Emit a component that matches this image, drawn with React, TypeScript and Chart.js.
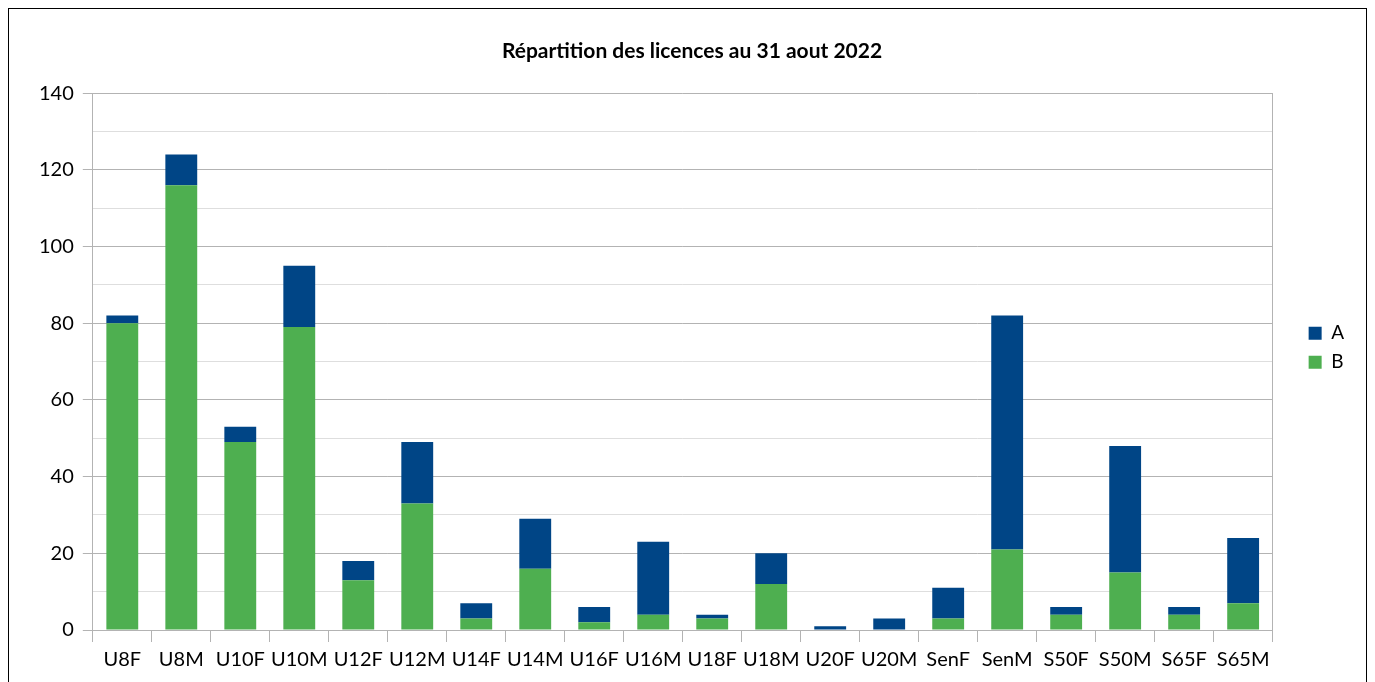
import React, { useEffect, useRef } from "react";
import { Chart, registerables } from "chart.js";

Chart.register(...registerables);

const categories = ["U8F", "U8M", "U10F", "U10M", "U12F", "U12M", "U14F", "U14M", "U16F", "U16M", "U18F", "U18M", "U20F", "U20M", "SenF", "SenM", "S50F", "S50M", "S65F", "S65M"];
const seriesB = [80, 116, 49, 79, 13, 33, 3, 16, 2, 4, 3, 12, 0, 0, 3, 21, 4, 15, 4, 7];
const seriesA = [2, 8, 4, 16, 5, 16, 4, 13, 4, 19, 1, 8, 1, 3, 8, 61, 2, 33, 2, 17];
const title = "Répartition des licences au 31 aout 2022";
const yMax = 140;

const FONT = "Lato, 'Liberation Sans', sans-serif";
const MAJOR = "#b3b3b3";
const MINOR = "#dedede";

export default function App() {
  const ref = useRef<HTMLCanvasElement | null>(null);
  useEffect(() => {
    if (!ref.current) return;
    const chart = new Chart(ref.current, {
      type: "bar",
      data: {
        labels: categories,
        datasets: [
          { label: "B", data: seriesB, backgroundColor: "#4eaf50", barPercentage: 0.54, categoryPercentage: 1 },
          { label: "A", data: seriesA, backgroundColor: "#004586", barPercentage: 0.54, categoryPercentage: 1 },
        ],
      },
      options: {
        animation: false,
        responsive: true,
        maintainAspectRatio: false,
        layout: { padding: { left: 21, right: 12, top: 0, bottom: 4 } },
        plugins: {
          title: {
            display: true,
            text: title,
            color: "#000",
            font: { family: FONT, size: 21, weight: "bold" },
            padding: { top: 30, bottom: 29 },
          },
          legend: {
            position: "right",
            reverse: true,
            title: { display: true, text: "", font: { family: FONT, size: 7 }, padding: 0 },
            labels: {
              color: "#000",
              font: { family: FONT, size: 19 },
              boxWidth: 13,
              boxHeight: 13,
              padding: 10,
            },
          },
          tooltip: { enabled: false },
        },
        scales: {
          x: {
            stacked: true,
            grid: { drawOnChartArea: false, drawTicks: true, tickLength: 12, color: MAJOR, offset: true },
            border: { color: MAJOR },
            ticks: { color: "#000", font: { family: FONT, size: 20 }, padding: 6, maxRotation: 0, autoSkip: false },
          },
          y: {
            stacked: true,
            min: 0,
            max: yMax,
            grid: {
              color: (c: any) => (c.tick && c.tick.value % 20 === 0 ? MAJOR : MINOR),
              tickColor: (c: any) => (c.tick && c.tick.value % 20 === 0 ? MAJOR : "rgba(0,0,0,0)"),
              tickLength: 10,
            },
            border: { color: MAJOR },
            ticks: {
              stepSize: 10,
              color: "#000",
              font: { family: FONT, size: 20 },
              padding: 9,
              callback: (v: any) => (Number(v) % 20 === 0 ? String(v) : ""),
            },
          },
          y2: {
            position: "right",
            display: true,
            grid: { display: false, drawTicks: false },
            border: { display: true, color: MAJOR },
            ticks: { display: false },
            afterFit: (s: any) => {
              s.width = 26;
            },
          },
        },
      },
    } as any);
    return () => chart.destroy();
  }, []);
  return (
    <div
      style={{
        height: 674,
        borderTop: "1px solid #000",
        borderLeft: "1px solid #000",
        borderRight: "1px solid #000",
        boxSizing: "border-box",
        background: "#fff",
      }}
    >
      <div style={{ position: "relative", height: 673 }}>
        <canvas ref={ref} />
      </div>
    </div>
  );
}
